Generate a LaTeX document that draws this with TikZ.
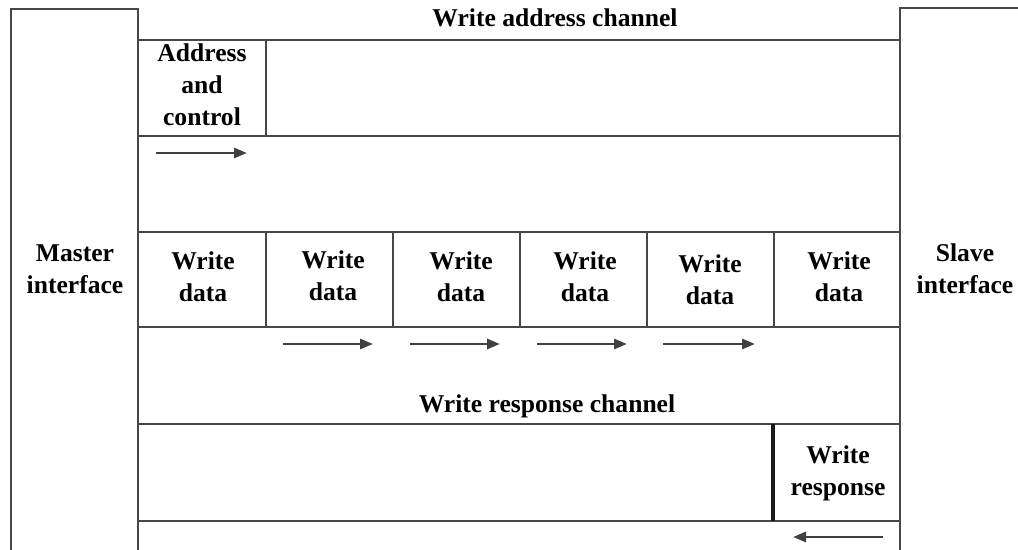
\documentclass[tikz,border=0pt]{standalone}
\usepackage{fontspec}
\setmainfont{Liberation Serif}
\usetikzlibrary{arrows.meta}

\begin{document}
\begin{tikzpicture}[x=0.5pt,y=-0.5pt,
  wire/.style={line width=1.4pt, black!72},
  lbl/.style={font=\bfseries\fontsize{12.8}{16}\selectfont, align=center, inner sep=0pt},
  flow/.style={-{Triangle[length=6.5pt,width=5pt]}, line width=1.4pt, black!75}]
  \useasboundingbox (0,0) rectangle (1018,550);

  % master and slave side
  \draw[wire] (11,550) -- (11,9) -- (138,9) -- (138,550);
  \draw[wire] (1018,8) -- (900,8) -- (900,550);
  \node[lbl] (master) at (75,269) {Master\\interface};
  \node[lbl] (slave) at (965,269) {Slave\\interface};

  % write address channel
  \node[lbl, anchor=base] (wachan) at (555,27) {Write address channel};
  \draw[wire] (138,40) -- (900,40);
  \draw[wire] (138,136) -- (900,136);
  \draw[wire] (266,40) -- (266,136);
  \node[lbl] (addrctl) at (202,85) {Address\\and\\control};
  \coordinate (aa) at (156,153);
  \coordinate (ab) at (247,153);
  \draw[flow] (aa) -- (ab);

  % write data channel
  \draw[wire] (138,232) -- (900,232);
  \draw[wire] (138,327) -- (900,327);
  \draw[wire] (266,232) -- (266,327);
  \draw[wire] (393,232) -- (393,327);
  \draw[wire] (520,232) -- (520,327);
  \draw[wire] (647,232) -- (647,327);
  \draw[wire] (774,232) -- (774,327);
  \node[lbl] (wd1) at (203,277) {Write\\data};
  \node[lbl] (wd2) at (333,276) {Write\\data};
  \node[lbl] (wd3) at (461,277) {Write\\data};
  \node[lbl] (wd4) at (585,277) {Write\\data};
  \node[lbl] (wd5) at (710,280) {Write\\data};
  \node[lbl] (wd6) at (839,277) {Write\\data};
  \coordinate (da1) at (283,344);
  \coordinate (db1) at (373,344);
  \coordinate (da2) at (410,344);
  \coordinate (db2) at (500,344);
  \coordinate (da3) at (537,344);
  \coordinate (db3) at (627,344);
  \coordinate (da4) at (663,344);
  \coordinate (db4) at (755,344);
  \draw[flow] (da1) -- (db1);
  \draw[flow] (da2) -- (db2);
  \draw[flow] (da3) -- (db3);
  \draw[flow] (da4) -- (db4);

  % write response channel
  \node[lbl, anchor=base] (wrchan) at (547,413) {Write response channel};
  \draw[wire] (138,424) -- (900,424);
  \draw[wire] (138,521) -- (900,521);
  \draw[line width=1.8pt, black!90] (773,424) -- (773,521);
  \node[lbl] (wresp) at (838,473) {Write\\response};
  \coordinate (ra) at (883,537);
  \coordinate (rb) at (793,537);
  \draw[flow] (ra) -- (rb);
\end{tikzpicture}
\end{document}
